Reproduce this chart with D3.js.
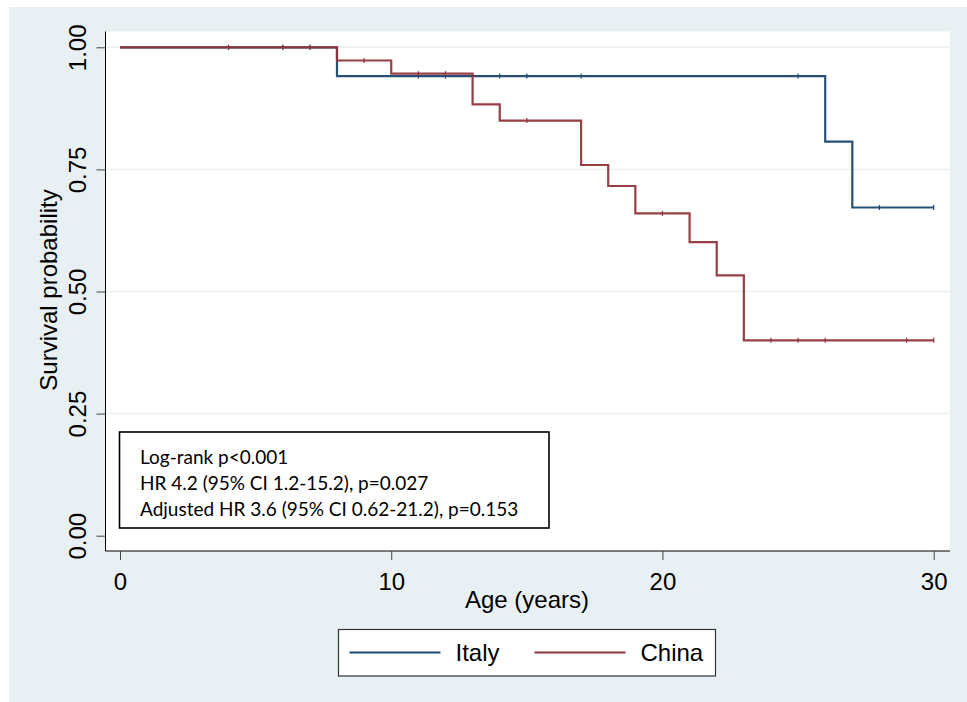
<!DOCTYPE html>
<html>
<head>
<meta charset="utf-8">
<script src="https://cdn.jsdelivr.net/npm/d3@7/dist/d3.min.js"></script>
<style>
  body { margin: 0; background: #ffffff; }
  svg { display: block; }
</style>
</head>
<body>
<div id="chart"></div>
<script>
// Kaplan-Meier steps
var italyTimes = [0, 8, 26, 27, 30];
var italySurv  = [1, 0.941, 0.807, 0.672, 0.672];
var italyCensor = [4, 6, 7, 11, 12, 14, 15, 17, 25, 28, 30];

var chinaTimes = [0, 8, 10, 13, 14, 17, 18, 19, 21, 22, 23, 30];
var chinaSurv  = [1, 0.973, 0.946, 0.883, 0.850, 0.759, 0.716, 0.660, 0.601, 0.533, 0.400, 0.400];
var chinaCensor = [4, 6, 7, 9, 11, 12, 15, 20, 24, 25, 26, 29, 30];

var xTicks = [0, 10, 20, 30];
var yTicks = [0, 0.25, 0.5, 0.75, 1];
var gridTicks = [0.25, 0.5, 0.75, 1];

var notes = [
  "Log-rank p<0.001",
  "HR 4.2 (95% CI 1.2-15.2), p=0.027",
  "Adjusted HR 3.6 (95% CI 0.62-21.2), p=0.153"
];
var seriesNames = ["Italy", "China"];
var blue = "#1a476f", red = "#90353b";
var font = "Liberation Sans, Arial, sans-serif";

var W = 967, H = 702;
var svg = d3.select("#chart").append("svg")
    .attr("width", W).attr("height", H);

// outer graph region
svg.append("rect").attr("x", 9).attr("y", 7).attr("width", W - 9).attr("height", H - 7)
    .attr("fill", "#e8f0f3");

// plot region
var px0 = 105.5, px1 = 950, py0 = 31.5, py1 = 551;
svg.append("rect").attr("x", px0).attr("y", py0)
    .attr("width", px1 - px0).attr("height", py1 - py0).attr("fill", "#ffffff");

var x = d3.scaleLinear().domain([0, 30]).range([120, 933.7]);
var y = d3.scaleLinear().domain([0, 1]).range([535.7, 47.3]);

// grid
svg.append("g").selectAll("line").data(gridTicks).enter().append("line")
    .attr("x1", px0).attr("x2", px1)
    .attr("y1", function(d) { return y(d); }).attr("y2", function(d) { return y(d); })
    .attr("stroke", "#eaf2f3").attr("stroke-width", 1.5);

// curves
function toPts(t, s) { return t.map(function(v, i) { return [v, s[i]]; }); }
function survAt(t, s, v) {
  var out = s[0];
  for (var i = 0; i < t.length; i++) { if (t[i] <= v) out = s[i]; }
  return out;
}
var line = d3.line()
    .x(function(d) { return x(d[0]); })
    .y(function(d) { return y(d[1]); })
    .curve(d3.curveStepAfter);

function drawSeries(t, s, cens, col) {
  svg.append("path").datum(toPts(t, s))
      .attr("d", line)
      .attr("fill", "none")
      .attr("stroke", col)
      .attr("stroke-width", 2.2)
      .attr("stroke-opacity", 0.95);
  svg.append("g").selectAll("line").data(cens).enter().append("line")
      .attr("x1", function(d) { return x(d); }).attr("x2", function(d) { return x(d); })
      .attr("y1", function(d) { return y(survAt(t, s, d)) - 2.5; })
      .attr("y2", function(d) { return y(survAt(t, s, d)) + 2.5; })
      .attr("stroke", col).attr("stroke-width", 1.2);
}
drawSeries(italyTimes, italySurv, italyCensor, blue);
drawSeries(chinaTimes, chinaSurv, chinaCensor, red);

// axes
var xAxis = svg.append("g").attr("transform", "translate(0," + py1 + ")")
    .call(d3.axisBottom(x).tickValues(xTicks).tickSize(9).tickPadding(13).tickFormat(d3.format("d")));
xAxis.select(".domain").attr("d", "M" + px0 + ",0H" + px1).attr("stroke", "#000");
xAxis.selectAll(".tick line").attr("stroke", "#444");
xAxis.selectAll("text").attr("font-family", font)
    .attr("font-size", 24).attr("fill", "#000");

var yAxis = svg.append("g").attr("transform", "translate(" + px0 + ",0)")
    .call(d3.axisLeft(y).tickValues(yTicks).tickSize(9).tickFormat(d3.format(".2f")));
yAxis.select(".domain").attr("d", "M0," + py0 + "V" + py1).attr("stroke", "#000");
yAxis.selectAll(".tick line").attr("stroke", "#444");
yAxis.selectAll("text")
    .attr("font-family", font)
    .attr("font-size", 24).attr("fill", "#000")
    .attr("x", null).attr("dy", null)
    .attr("text-anchor", "middle")
    .attr("transform", "translate(-20,0) rotate(-90)");

svg.append("text")
    .attr("transform", "translate(57,290) rotate(-90)")
    .attr("text-anchor", "middle")
    .attr("font-family", font).attr("font-size", 24)
    .text("Survival probability");

svg.append("text")
    .attr("x", 527).attr("y", 608)
    .attr("text-anchor", "middle")
    .attr("font-family", font).attr("font-size", 24)
    .text("Age (years)");

// annotation box
svg.append("rect").attr("x", 119.5).attr("y", 432).attr("width", 429.5).attr("height", 96)
    .attr("fill", "#fff").attr("stroke", "#000").attr("stroke-width", 1.6);
svg.append("g").selectAll("text").data(notes).enter().append("text")
    .attr("x", 140)
    .attr("y", function(d, i) { return 464 + i * 26; })
    .attr("font-family", "Lato, Open Sans, sans-serif").attr("font-size", 19)
    .text(function(d) { return d; });

// legend
svg.append("rect").attr("x", 338.5).attr("y", 629.5).attr("width", 377).attr("height", 46.5)
    .attr("fill", "#fff").attr("stroke", "#333").attr("stroke-width", 1.2);
var legendX = [349.5, 534.5];
var legendCols = [blue, red];
var lg = svg.append("g").selectAll("g").data(seriesNames).enter().append("g");
lg.append("line")
    .attr("x1", function(d, i) { return legendX[i]; })
    .attr("x2", function(d, i) { return legendX[i] + 91; })
    .attr("y1", 652.5).attr("y2", 652.5)
    .attr("stroke", function(d, i) { return legendCols[i]; }).attr("stroke-width", 2);
lg.append("text")
    .attr("x", function(d, i) { return legendX[i] + 106; })
    .attr("y", 661)
    .attr("font-family", font).attr("font-size", 24)
    .text(function(d) { return d; });
</script>
</body>
</html>
